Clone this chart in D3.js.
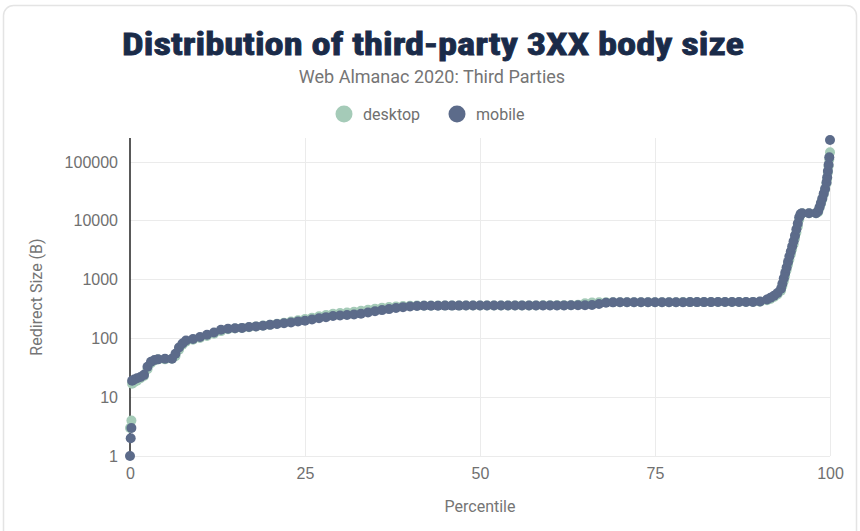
<!DOCTYPE html>
<meta charset="utf-8">
<style>
    body {
        margin: 0;
        background: #fff;
        font-family: Roboto, "Liberation Sans", sans-serif;
    }
    .grid line {
        stroke: #ebebeb;
        stroke-width: 1;
        shape-rendering: crispEdges;
    }
    .tick text {
        fill: #707070;
        font-size: 16px;
    }
</style>
<body>
<div id="chart"></div>

<script src="https://cdn.jsdelivr.net/npm/d3@7"></script>
<script>

    // percentile positions (denser where the curve climbs fast)
    var percentiles = [0, 0.1, 0.2, 0.3, 0.6, 1, 1.5, 2, 2.5, 3, 3.5, 4, 5, 6, 6.5, 7, 7.5, 8,
        9, 10, 11, 12, 13, 14, 15, 16, 17, 18,
        19, 20, 21, 22, 23, 24, 25, 26, 27, 28,
        29, 30, 31, 32, 33, 34, 35, 36, 37, 38,
        39, 40, 41, 42, 43, 44, 45, 46, 47, 48,
        49, 50, 51, 52, 53, 54, 55, 56, 57, 58,
        59, 60, 61, 62, 63, 64, 65, 66, 67, 68,
        69, 70, 71, 72, 73, 74, 75, 76, 77, 78,
        79, 80, 81, 82, 83, 84, 85, 86, 87, 88,
        89, 90,
        91, 91.5, 92, 92.5, 93, 93.2, 93.4, 93.6, 93.8, 94,
        94.2, 94.4, 94.6, 94.8, 95, 95.2, 95.4, 95.6, 95.8, 96,
        97, 98, 98.3, 98.5, 98.7, 98.9, 99.1, 99.3, 99.5, 99.6,
        99.7, 99.8, 99.9, 100];

    var desktop = [3, 3, 4, 17, 18, 19, 21, 23, 30, 38, 42, 44, 44, 45, 50, 64, 78, 88,
        95, 102, 110, 120, 133, 143, 148, 151, 155, 160,
        165, 171, 178, 185, 193, 203, 213, 225, 237, 250,
        262, 270, 276, 284, 295, 308, 320, 332, 342, 350,
        356, 360, 361, 361, 361, 362, 362, 362, 362, 362,
        362, 363, 363, 363, 363, 363, 364, 364, 364, 364,
        365, 365, 366, 366, 368, 375, 395, 408, 410, 411,
        411, 412, 412, 412, 412, 413, 413, 413, 413, 413,
        414, 414, 414, 414, 415, 415, 415, 415, 416, 416,
        417, 420,
        445, 470, 505, 560, 650, 780, 950, 1150, 1450, 1800,
        2200, 2700, 3300, 4000, 5000, 6300, 8000, 10500, 12500, 13400,
        13400, 13500, 14000, 16500, 19500, 23000, 28000, 34000, 43000, 52000,
        66000, 85000, 110000, 146000];

    var mobile = [1, 2, 3, 19, 20, 21, 22, 24, 33, 40, 43, 44, 45, 45, 55, 70, 82, 92,
        98, 106, 115, 126, 140, 146, 149, 151, 156, 160,
        164, 170, 176, 181, 187, 194, 200, 210, 220, 230,
        240, 246, 250, 255, 262, 275, 290, 303, 315, 328,
        340, 350, 355, 358, 360, 360, 361, 361, 361, 362,
        362, 362, 362, 362, 362, 363, 363, 363, 363, 363,
        363, 364, 364, 364, 365, 365, 366, 370, 385, 405,
        410, 411, 411, 412, 412, 412, 412, 413, 413, 413,
        413, 414, 414, 414, 414, 415, 415, 415, 416, 416,
        418, 425,
        460, 490, 530, 590, 700, 850, 1050, 1300, 1600, 2000,
        2500, 3000, 3700, 4500, 5600, 7200, 9000, 11500, 13000, 13400,
        13400, 13500, 14500, 17000, 20000, 24000, 29000, 35000, 45000, 55000,
        70000, 90000, 120000, 236000];

    var xTicks = [0, 25, 50, 75, 100];
    var yTicks = [1, 10, 100, 1000, 10000, 100000];

    var seriesNames = ["desktop", "mobile"];
    var colors = {desktop: "#a5cbb8", mobile: "#5c6b8a"};

    var W = 860, H = 531;
    var margin = {top: 138, right: 30, bottom: 75, left: 130},
            width = W - margin.left - margin.right,
            height = H - margin.top - margin.bottom;

    var svg = d3.select("#chart").append("svg")
            .attr("width", W)
            .attr("height", H);

    // card
    svg.append("rect")
            .attr("x", 3.5).attr("y", 5.5)
            .attr("width", W - 7).attr("height", H + 20)
            .attr("rx", 10)
            .attr("fill", "#fff")
            .attr("stroke", "#e4e4e4")
            .attr("stroke-width", 1.5);

    svg.append("text")
            .attr("x", 433).attr("y", 55)
            .attr("text-anchor", "middle")
            .attr("textLength", 622)
            .attr("lengthAdjust", "spacingAndGlyphs")
            .style("font-family", "'Liberation Sans Narrow', 'Roboto Condensed', Roboto, sans-serif")
            .style("font-weight", 700)
            .style("font-size", "31px")
            .style("fill", "#1a2b49")
            .style("stroke", "#1a2b49")
            .style("stroke-width", 0.8)
            .text("Distribution of third-party 3XX body size");

    svg.append("text")
            .attr("x", 432).attr("y", 83)
            .attr("text-anchor", "middle")
            .style("font-size", "18px")
            .style("fill", "#757575")
            .text("Web Almanac 2020: Third Parties");

    // legend
    var legendX = {desktop: 344, mobile: 457};
    seriesNames.forEach(function(name) {
        svg.append("circle")
                .attr("cx", legendX[name]).attr("cy", 114)
                .attr("r", 8.5)
                .attr("fill", colors[name]);
        svg.append("text")
                .attr("x", legendX[name] + 19).attr("y", 120)
                .style("font-size", "16px")
                .style("fill", "#6f6f6f")
                .text(name);
    });

    var g = svg.append("g")
            .attr("transform", "translate(" + margin.left + "," + margin.top + ")");

    var x = d3.scaleLinear()
            .domain([0, 100])
            .range([0, width]);

    var y = d3.scaleLog()
            .domain([1, 256000])
            .range([height, 0]);

    // grid
    g.append("g").attr("class", "grid")
            .selectAll("line").data(yTicks).enter().append("line")
            .attr("x1", 0).attr("x2", width)
            .attr("y1", function(d) { return y(d); })
            .attr("y2", function(d) { return y(d); });

    g.append("g").attr("class", "grid")
            .selectAll("line").data(xTicks.slice(1)).enter().append("line")
            .attr("x1", function(d) { return x(d); })
            .attr("x2", function(d) { return x(d); })
            .attr("y1", 0).attr("y2", height);

    var yAxis = g.append("g")
            .call(d3.axisLeft(y).tickValues(yTicks).tickFormat(d3.format("d")).tickSize(0).tickPadding(12));
    yAxis.select(".domain").remove();

    var xAxis = g.append("g")
            .attr("transform", "translate(0," + height + ")")
            .call(d3.axisBottom(x).tickValues(xTicks).tickSize(0).tickPadding(12));
    xAxis.select(".domain").remove();

    // vertical axis line
    g.append("line")
            .attr("x1", 0).attr("x2", 0)
            .attr("y1", 0).attr("y2", height)
            .attr("stroke", "#222")
            .attr("stroke-width", 1.5);

    var data = {desktop: desktop, mobile: mobile};

    seriesNames.forEach(function(name) {
        g.append("g")
                .selectAll("circle")
                .data(percentiles.map(function(p, i) { return {p: p, v: data[name][i]}; }))
                .enter().append("circle")
                .attr("cx", function(d) { return x(d.p); })
                .attr("cy", function(d) { return y(d.v); })
                .attr("r", 5)
                .attr("fill", colors[name]);
    });

    svg.append("text")
            .attr("transform", "translate(42," + (margin.top + height / 2) + ") rotate(-90)")
            .attr("text-anchor", "middle")
            .style("font-size", "16px")
            .style("fill", "#757575")
            .text("Redirect Size (B)");

    svg.append("text")
            .attr("x", margin.left + width / 2).attr("y", 512)
            .attr("text-anchor", "middle")
            .style("font-size", "16px")
            .style("fill", "#757575")
            .text("Percentile");

</script>
